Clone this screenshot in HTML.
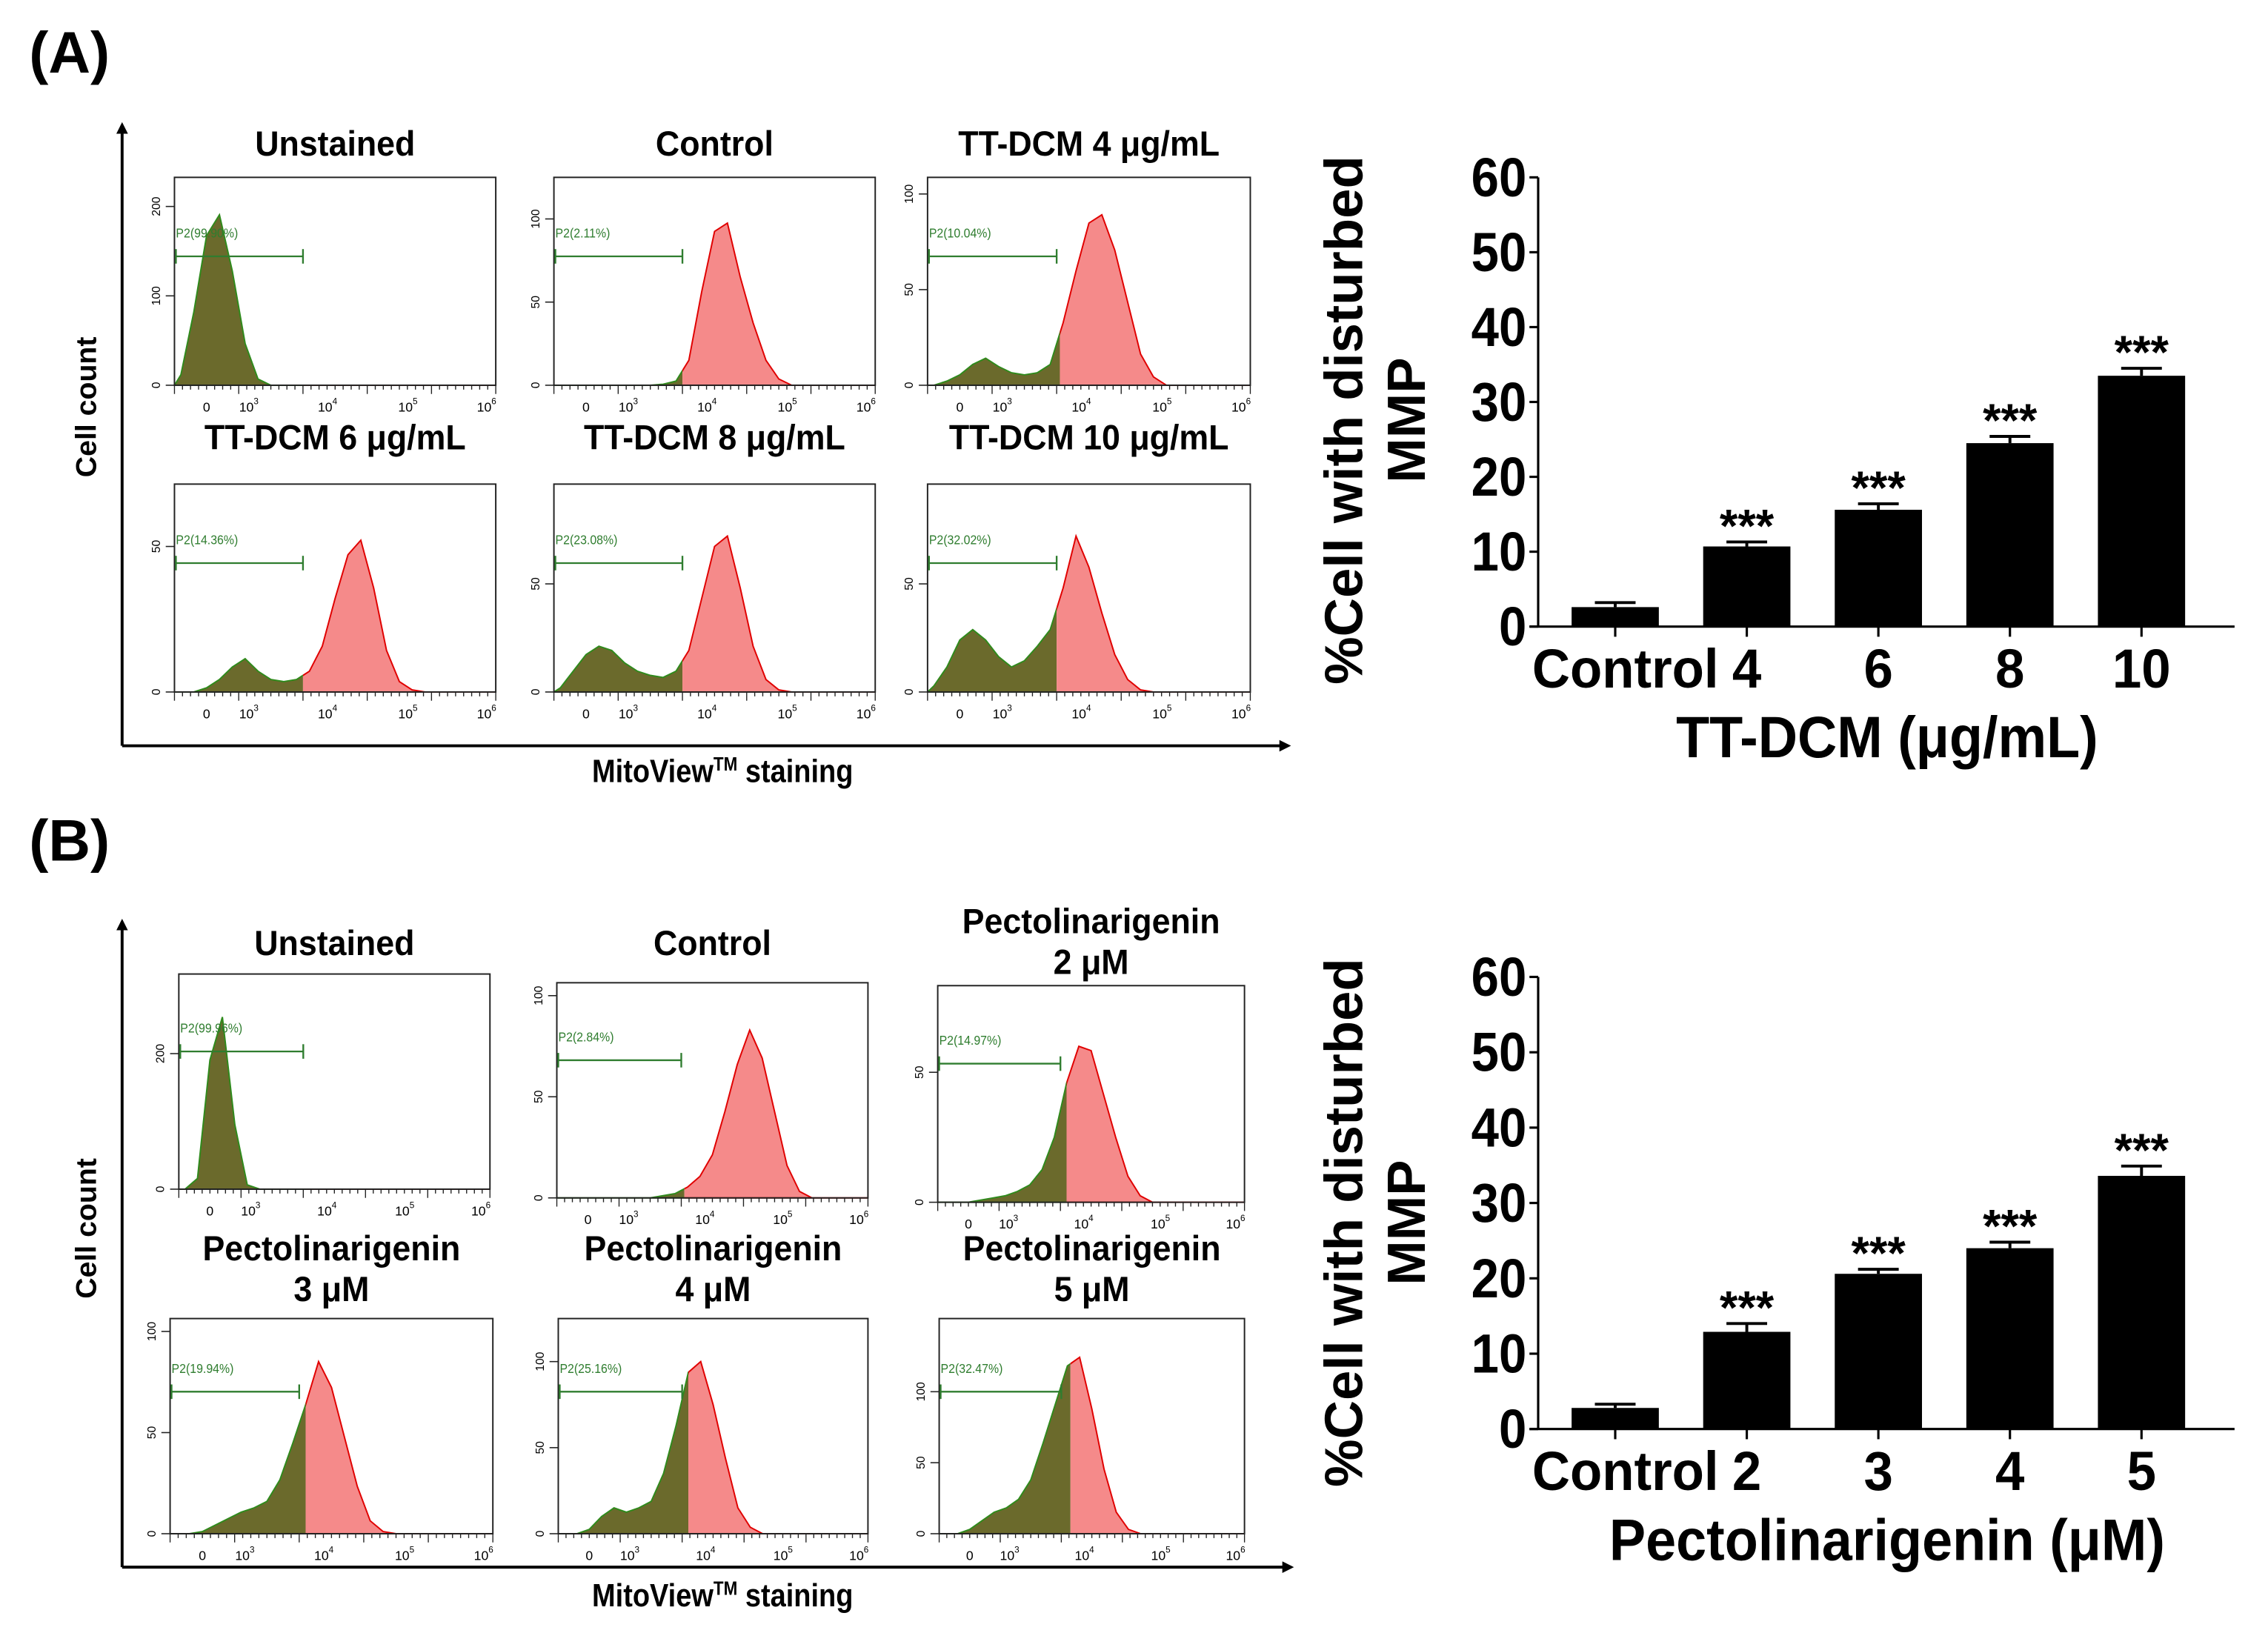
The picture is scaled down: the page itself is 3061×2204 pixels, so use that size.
<!DOCTYPE html>
<html><head><meta charset="utf-8"><style>
html,body{margin:0;padding:0;background:#fff;}
svg{display:block;}
text{font-family:"Liberation Sans",sans-serif;}
</style></head><body>
<svg id="fig" xmlns="http://www.w3.org/2000/svg" width="3061" height="2204" viewBox="0 0 1560 1123.3" preserveAspectRatio="none">
<defs>
<marker id="arr" markerWidth="8" markerHeight="8" refX="6" refY="4" orient="auto" markerUnits="userSpaceOnUse"><path d="M0,0 L8,4 L0,8 z" fill="#000"/></marker>
</defs>
<g id="root"></g>
</svg>
<script>
// ---------- bar chart data ----------
const catsA = ["Control","4","6","8","10"];
const valsA = [2.6, 10.7, 15.6, 24.5, 33.5];
const errA  = [0.6, 0.6, 0.8, 0.9, 1.0];
const sigA  = ["", "***","***","***","***"];
const catsB = ["Control","2","3","4","5"];
const valsB = [2.8, 12.9, 20.6, 24.0, 33.6];
const errB  = [0.5, 1.1, 0.6, 0.8, 1.3];
const sigB  = ["", "***","***","***","***"];
const yTicks = [0,10,20,30,40,50,60];

// ---------- histogram data (25 bins across each plot, height as fraction of plot) ----------
const histA1 = [0.05,0.35,0.72,0.82,0.55,0.2,0.03,0,0,0,0,0,0,0,0,0,0,0,0,0,0,0,0,0,0];
const histA2 = [0,0,0,0,0,0,0,0,0.005,0.02,0.12,0.45,0.74,0.78,0.52,0.3,0.12,0.03,0,0,0,0,0,0,0];
const histA3 = [0,0.02,0.05,0.1,0.13,0.09,0.06,0.05,0.06,0.1,0.3,0.55,0.78,0.82,0.65,0.4,0.15,0.04,0,0,0,0,0,0,0];
const histA4 = [0,0,0.02,0.06,0.12,0.16,0.1,0.06,0.05,0.06,0.1,0.22,0.45,0.66,0.73,0.5,0.2,0.05,0.01,0,0,0,0,0,0];
const histA5 = [0.02,0.1,0.18,0.22,0.2,0.14,0.1,0.08,0.07,0.1,0.2,0.45,0.7,0.75,0.5,0.22,0.06,0.01,0,0,0,0,0,0,0];
const histA6 = [0.03,0.12,0.25,0.3,0.25,0.17,0.12,0.15,0.22,0.3,0.5,0.75,0.6,0.38,0.18,0.06,0.01,0,0,0,0,0,0,0,0];
const histB1 = [0,0.05,0.6,0.8,0.3,0.02,0,0,0,0,0,0,0,0,0,0,0,0,0,0,0,0,0,0,0];
const histB2 = [0,0,0,0,0,0,0,0,0.01,0.02,0.05,0.1,0.2,0.4,0.62,0.78,0.65,0.4,0.15,0.03,0,0,0,0,0];
const histB3 = [0,0,0,0.01,0.02,0.03,0.05,0.08,0.15,0.3,0.55,0.72,0.7,0.5,0.3,0.12,0.03,0,0,0,0,0,0,0,0];
const histB4 = [0,0,0.01,0.04,0.07,0.1,0.12,0.15,0.25,0.42,0.6,0.8,0.68,0.45,0.22,0.06,0.01,0,0,0,0,0,0,0,0];
const histB5 = [0,0,0.02,0.08,0.12,0.1,0.12,0.15,0.28,0.5,0.75,0.8,0.6,0.35,0.12,0.03,0,0,0,0,0,0,0,0,0];
const histB6 = [0,0,0.02,0.06,0.1,0.12,0.16,0.25,0.42,0.6,0.78,0.82,0.58,0.3,0.1,0.02,0,0,0,0,0,0,0,0,0];
const gateLabels = ["P2(99.90%)","P2(2.11%)","P2(10.04%)","P2(14.36%)","P2(23.08%)","P2(32.02%)",
                    "P2(99.96%)","P2(2.84%)","P2(14.97%)","P2(19.94%)","P2(25.16%)","P2(32.47%)"];
const yTickLabA = [["0","100","200"],["0","50","100"],["0","50","100"],["0","50"],["0","50"],["0","50"]];
const yTickLabB = [["0","200"],["0","50","100"],["0","50"],["0","50","100"],["0","50","100"],["0","50","100"]];

const NS="http://www.w3.org/2000/svg";
const root=document.getElementById('root');
function mk(tag,attrs,parent){const e=document.createElementNS(NS,tag);for(const k in attrs)e.setAttribute(k,attrs[k]);(parent||root).appendChild(e);return e;}
function txt(x,y,s,size,opts){opts=opts||{};
  const g=mk('g',{transform:`translate(${x},${y}) rotate(${opts.rot||0}) scale(${opts.sx||1},1)`},opts.parent);
  const t=mk('text',{x:0,y:0,'font-size':size,'font-weight':opts.w||'bold','text-anchor':opts.anchor||'middle',fill:opts.fill||'#000'},g);
  t.textContent=s;return t;}

// panel labels
let t=txt(20,50,"(A)",40,{anchor:'start'});


t=txt(20,592,"(B)",40,{anchor:'start'});



// big axes of flow panels
function bigAxes(y0,y1,x1,labY,titleY,nm){
  let l=mk('line',{x1:84,y1:y1,x2:84,y2:y0,stroke:'#000','stroke-width':2,'marker-end':'url(#arr)'});
  
  
  l=mk('line',{x1:84,y1:y1,x2:x1,y2:y1,stroke:'#000','stroke-width':2,'marker-end':'url(#arr)'});
  
  
  let c=txt(66,labY,"Cell count",20,{rot:-90});
  
  
  const g=mk('g',{transform:`translate(497,${titleY}) scale(0.88,1)`});
  const tt=mk('text',{x:0,y:0,'font-size':22,'font-weight':'bold','text-anchor':'middle'},g);
  tt.innerHTML='MitoView<tspan font-size="13" dy="-8">TM</tspan><tspan dy="8"> staining</tspan>';
  
  
}
bigAxes(86,513,886,280,538,'a');
bigAxes(634,1078,888,845,1105,'b');

// histogram panels (layout)
const panels=[
 {h:histA1,x:120,y:122,w:221,ht:143,g:0.4,gy:0.62,title:["Unstained"],ty:107,yl:yTickLabA[0],yf:[0,0.43,0.86]},
 {h:histA2,x:381,y:122,w:221,ht:143,g:0.4,gy:0.62,title:["Control"],ty:107,yl:yTickLabA[1],yf:[0,0.4,0.8]},
 {h:histA3,x:638,y:122,w:222,ht:143,g:0.41,gy:0.62,title:["TT-DCM 4 μg/mL"],ty:107,yl:yTickLabA[2],yf:[0,0.46,0.92]},
 {h:histA4,x:120,y:333,w:221,ht:143,g:0.4,gy:0.62,title:["TT-DCM 6 μg/mL"],ty:309,yl:yTickLabA[3],yf:[0,0.7]},
 {h:histA5,x:381,y:333,w:221,ht:143,g:0.4,gy:0.62,title:["TT-DCM 8 μg/mL"],ty:309,yl:yTickLabA[4],yf:[0,0.52]},
 {h:histA6,x:638,y:333,w:222,ht:143,g:0.4,gy:0.62,title:["TT-DCM 10 μg/mL"],ty:309,yl:yTickLabA[5],yf:[0,0.52]},
 {h:histB1,x:123,y:670,w:214,ht:148,g:0.41,gy:0.64,title:["Unstained"],ty:657,yl:yTickLabB[0],yf:[0,0.63]},
 {h:histB2,x:383,y:676,w:214,ht:148,g:0.41,gy:0.64,title:["Control"],ty:657,yl:yTickLabB[1],yf:[0,0.47,0.94]},
 {h:histB3,x:645,y:678,w:211,ht:149,g:0.42,gy:0.64,title:["Pectolinarigenin","2 μM"],ty:642,yl:yTickLabB[2],yf:[0,0.6]},
 {h:histB4,x:117,y:907,w:222,ht:148,g:0.42,gy:0.66,title:["Pectolinarigenin","3 μM"],ty:867,yl:yTickLabB[3],yf:[0,0.47,0.94]},
 {h:histB5,x:384,y:907,w:213,ht:148,g:0.42,gy:0.66,title:["Pectolinarigenin","4 μM"],ty:867,yl:yTickLabB[4],yf:[0,0.4,0.8]},
 {h:histB6,x:646,y:907,w:210,ht:148,g:0.43,gy:0.66,title:["Pectolinarigenin","5 μM"],ty:867,yl:yTickLabB[5],yf:[0,0.33,0.66]}
];
const xTickLab=["0","10","10","10","10"], xTickExp=["","3","4","5","6"], xTickF=[0.1,0.245,0.49,0.74,0.985];
panels.forEach((p,i)=>{
  const g=mk('g',{});
  
  
  p.title.forEach((s,k)=>{txt(p.x+p.w/2,p.ty+k*28,s,24,{sx:0.95,parent:g});});
  const sx=f=>p.x+f*p.w, sy=f=>p.y+p.ht-f*p.ht;
  let d=`M${sx(0)},${sy(0)}`;
  p.h.forEach((v,k)=>{d+=` L${sx((k+0.5)/p.h.length)},${sy(v)}`;});
  d+=` L${sx(1)},${sy(0)} Z`;
  const cid='c'+i;
  const cp=mk('clipPath',{id:cid+'l'},g);mk('rect',{x:p.x,y:p.y-30,width:p.g*p.w,height:p.ht+31},cp);
  const cp2=mk('clipPath',{id:cid+'r'},g);mk('rect',{x:sx(p.g),y:p.y-30,width:(1-p.g)*p.w,height:p.ht+31},cp2);
  const gr=mk('path',{d:d,fill:'#6b6a2c',stroke:'#2f8a1c','stroke-width':1,'clip-path':`url(#${cid}l)`},g);
  
  
  const rd=mk('path',{d:d,fill:'#f58a8a',stroke:'#e00000','stroke-width':1,'clip-path':`url(#${cid}r)`},g);
  
  
  mk('rect',{x:p.x,y:p.y,width:p.w,height:p.ht,fill:'none',stroke:'#222','stroke-width':1},g);
  // gate
  const gyy=sy(p.gy);
  mk('line',{x1:p.x+1,y1:gyy,x2:sx(0.4),y2:gyy,stroke:'#2f7d2f','stroke-width':1.2},g);
  mk('line',{x1:sx(0.4),y1:gyy-5,x2:sx(0.4),y2:gyy+5,stroke:'#2f7d2f','stroke-width':1.2},g);
  mk('line',{x1:p.x+1,y1:gyy-5,x2:p.x+1,y2:gyy+5,stroke:'#2f7d2f','stroke-width':1.2},g);
  txt(p.x+1,gyy-13,gateLabels[i],9,{anchor:'start',w:'normal',fill:'#2f7d2f',sx:0.9,parent:g});
  // y ticks
  p.yl.forEach((s,k)=>{const yy=sy(p.yf[k]);
    mk('line',{x1:p.x-6,y1:yy,x2:p.x,y2:yy,stroke:'#222','stroke-width':0.8},g);
    txt(p.x-10,yy,s,8,{rot:-90,w:'normal',parent:g});});
  // x ticks
  for(let k=0;k<=40;k++){const xx=sx(k/40);mk('line',{x1:xx,y1:sy(0),x2:xx,y2:sy(0)+(k%8==0?6:3),stroke:'#222','stroke-width':0.7},g);}
  xTickF.forEach((f,k)=>{const tt=txt(sx(f)-(k?3:0),sy(0)+18,xTickLab[k],9,{w:'normal',parent:g});
    if(xTickExp[k]){const e=mk('tspan',{'font-size':6,dy:-5},tt);e.textContent=xTickExp[k];}});
});

// bar charts
function barChart(cats,vals,errs,sigs,y0,y60,xTitle,nm){
  const g=mk('g',{});
  
  
  const ax=1058, xEnd=1537;
  const yS=v=>y0-(v/60)*(y0-y60);
  const centers=cats.map((c,i)=>1111+i*90.5);
  mk('line',{x1:ax,y1:y60,x2:ax,y2:y0,stroke:'#000','stroke-width':1.6},g);
  mk('line',{x1:ax-6,y1:y0,x2:xEnd,y2:y0,stroke:'#000','stroke-width':1.6},g);
  yTicks.forEach(v=>{mk('line',{x1:ax-6,y1:yS(v),x2:ax,y2:yS(v),stroke:'#000','stroke-width':1.6},g);
    txt(ax-8,yS(v)+13,String(v),38,{anchor:'end',sx:0.9,parent:g});});
  cats.forEach((c,i)=>{const cx=centers[i];
    mk('line',{x1:cx,y1:y0,x2:cx,y2:y0+7,stroke:'#000','stroke-width':1.6},g);
    const b=mk('rect',{x:cx-30,y:yS(vals[i]),width:60,height:y0-yS(vals[i]),fill:'#000'},g);
    
    
    const te=yS(vals[i]+errs[i]);
    mk('line',{x1:cx,y1:yS(vals[i]),x2:cx,y2:te,stroke:'#000','stroke-width':2},g);
    mk('line',{x1:cx-14,y1:te,x2:cx+14,y2:te,stroke:'#000','stroke-width':2},g);
    if(sigs[i])txt(cx,te,sigs[i],32,{parent:g});
    const lx=i==0?cx+7:cx;
    txt(lx,y0+42,c,38,{sx:0.95,parent:g});});
  txt(1298,y0+90,xTitle,40,{sx:0.94,parent:g});
  const yl=txt(937,y0-142,"%Cell with disturbed",37,{rot:-90,parent:g});
  
  
  txt(980,y0-142,"MMP",37,{rot:-90,parent:g});
}
barChart(catsA,valsA,errA,sigA,431,122,"TT-DCM (μg/mL)",'bar-chart-a');
barChart(catsB,valsB,errB,sigB,983,672,"Pectolinarigenin (μM)",'bar-chart-b');
</script>
</body></html>
